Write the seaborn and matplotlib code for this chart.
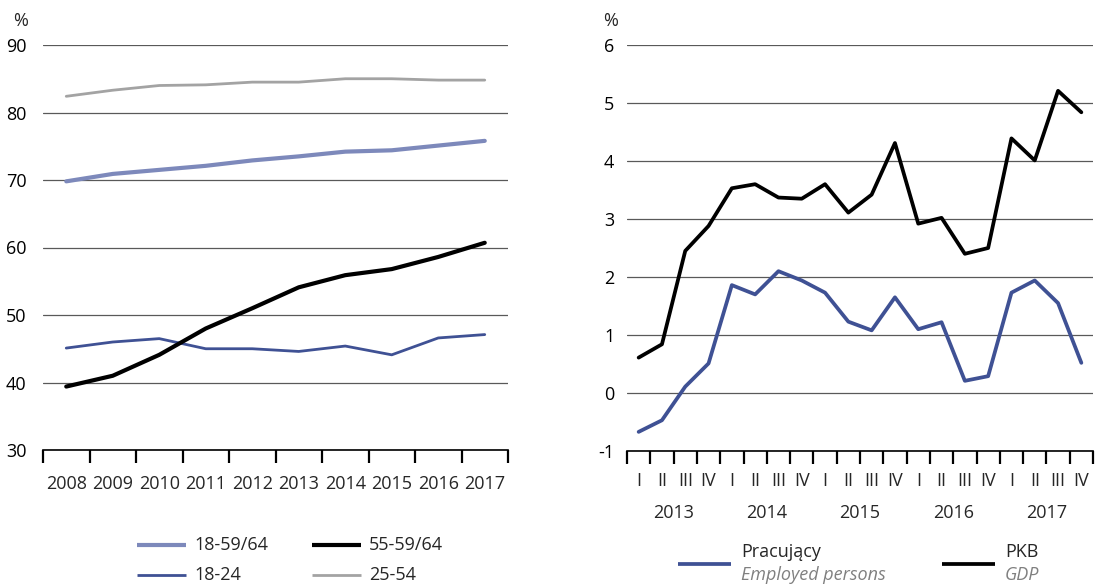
import numpy as np
import matplotlib
matplotlib.use("Agg")
import matplotlib.pyplot as plt
import seaborn as sns
from matplotlib.lines import Line2D

# Left panel: employment rate by age group (%)
years = [2008, 2009, 2010, 2011, 2012, 2013, 2014, 2015, 2016, 2017]
emp_18_59_64 = [69.8, 70.9, 71.5, 72.1, 72.9, 73.5, 74.2, 74.4, 75.1, 75.8]
emp_55_59_64 = [39.4, 41.0, 44.1, 48.0, 51.0, 54.1, 55.9, 56.8, 58.6, 60.7]
emp_18_24 = [45.1, 46.0, 46.5, 45.0, 45.0, 44.6, 45.4, 44.1, 46.6, 47.1]
emp_25_54 = [82.4, 83.3, 84.0, 84.1, 84.5, 84.5, 85.0, 85.0, 84.8, 84.8]

# Right panel: y/y growth, quarterly (%)
quarters = ["I", "II", "III", "IV"] * 5
q_years = ["2013", "2014", "2015", "2016", "2017"]
employed = [-0.67, -0.47, 0.11, 0.51, 1.86, 1.70, 2.10, 1.94, 1.73, 1.23,
            1.08, 1.65, 1.10, 1.22, 0.21, 0.29, 1.73, 1.94, 1.55, 0.52]
gdp = [0.61, 0.84, 2.45, 2.88, 3.53, 3.60, 3.37, 3.35, 3.60, 3.11,
       3.42, 4.31, 2.92, 3.02, 2.40, 2.50, 4.39, 4.01, 5.21, 4.84]

c_light = "#7d89bb"
c_dark = "#3f5194"
c_gray = "#a3a3a3"
c_black = "#000000"
c_grid = "#595959"
FS = 13

sns.set_theme(style="white")
plt.rcParams['font.family'] = ['Open Sans', 'DejaVu Sans']
plt.rcParams['font.size'] = FS
plt.rcParams['axes.unicode_minus'] = False

W, H = 1095, 586
fig = plt.figure(figsize=(W / 100, H / 100), dpi=100)


def box(x0, y0, x1, y1):
    return [x0 / W, 1 - y1 / H, (x1 - x0) / W, (y1 - y0) / H]


def style_axis(ax):
    for s in ["top", "right", "left"]:
        ax.spines[s].set_visible(False)
    ax.spines["bottom"].set_color("black")
    ax.spines["bottom"].set_linewidth(1.2)
    ax.yaxis.grid(True, color=c_grid, linewidth=0.9)
    ax.xaxis.grid(False)
    ax.set_axisbelow(True)
    ax.tick_params(axis="y", length=0, pad=9, labelsize=FS, colors="black")
    ax.tick_params(axis="x", which="major", direction="out", length=9,
                   width=1.6, color="black", bottom=True, labelbottom=False)
    ax.tick_params(axis="x", which="minor", length=0, labelsize=FS,
                   bottom=True, labelbottom=True)
    ax.set_xlabel("")
    ax.set_ylabel("")


# ---- left panel
ax1 = fig.add_axes(box(43, 45, 508, 450))
sns.lineplot(x=years, y=emp_25_54, ax=ax1, color=c_gray, linewidth=2.0)
sns.lineplot(x=years, y=emp_18_59_64, ax=ax1, color=c_light, linewidth=3.0)
sns.lineplot(x=years, y=emp_18_24, ax=ax1, color=c_dark, linewidth=2.0)
sns.lineplot(x=years, y=emp_55_59_64, ax=ax1, color=c_black, linewidth=3.0)
ax1.set_xlim(years[0] - 0.5, years[-1] + 0.5)
ax1.set_ylim(30, 90)
ax1.set_yticks(range(30, 91, 10))
ax1.set_xticks(np.arange(years[0] - 0.5, years[-1] + 1, 1))
ax1.set_xticks(years, minor=True)
ax1.set_xticklabels([str(y) for y in years], minor=True)
style_axis(ax1)
ax1.tick_params(axis="y", pad=12)
ax1.tick_params(axis="x", which="minor", pad=18)

# ---- right panel
xq = np.arange(len(quarters))
ax2 = fig.add_axes(box(627, 45, 1093, 451))
sns.lineplot(x=xq, y=employed, ax=ax2, color=c_dark, linewidth=2.7)
sns.lineplot(x=xq, y=gdp, ax=ax2, color=c_black, linewidth=2.7)
ax2.set_xlim(-0.5, len(quarters) - 0.5)
ax2.set_ylim(-1, 6)
ax2.set_yticks(range(-1, 7))
ax2.set_xticks(np.arange(-0.5, len(quarters), 1))
ax2.set_xticks(xq, minor=True)
ax2.set_xticklabels(quarters, minor=True)
style_axis(ax2)
ax2.tick_params(axis="x", which="minor", pad=15)
for i, yr in enumerate(q_years):
    ax2.text(i * 4 + 1.5, -0.152, yr, transform=ax2.get_xaxis_transform(),
             ha="center", va="center", fontsize=FS)

# percent signs
fig.text(21 / W, 1 - 21 / H, "%", ha="center", va="center", fontsize=13)
fig.text(611 / W, 1 - 21 / H, "%", ha="center", va="center", fontsize=13)


# ---- legends
def key(x0, x1, y, color, lw):
    fig.add_artist(Line2D([x0 / W, x1 / W], [1 - y / H, 1 - y / H],
                          color=color, linewidth=lw, solid_capstyle="butt"))


left_legend = [("18-59/64", c_light, 3.0, 137, 545),
               ("55-59/64", c_black, 3.0, 312, 545),
               ("18-24", c_dark, 2.0, 137, 575),
               ("25-54", c_gray, 2.0, 312, 575)]
for label, color, lw, x0, y in left_legend:
    key(x0, x0 + 49, y, color, lw)
    fig.text((x0 + 57) / W, 1 - y / H, label, ha="left", va="center",
             fontsize=FS)

right_legend = [("Pracujący", "Employed persons", c_dark, 678),
                ("PKB", "GDP", c_black, 942)]
for pl, en, color, x0 in right_legend:
    key(x0, x0 + 53, 564, color, 2.7)
    fig.text((x0 + 63) / W, 1 - 552 / H, pl, ha="left", va="center",
             fontsize=FS)
    fig.text((x0 + 63) / W, 1 - 575 / H, en, ha="left", va="center",
             fontsize=FS, style="italic", color="#808080")

fig.savefig("out.png", dpi=100)
